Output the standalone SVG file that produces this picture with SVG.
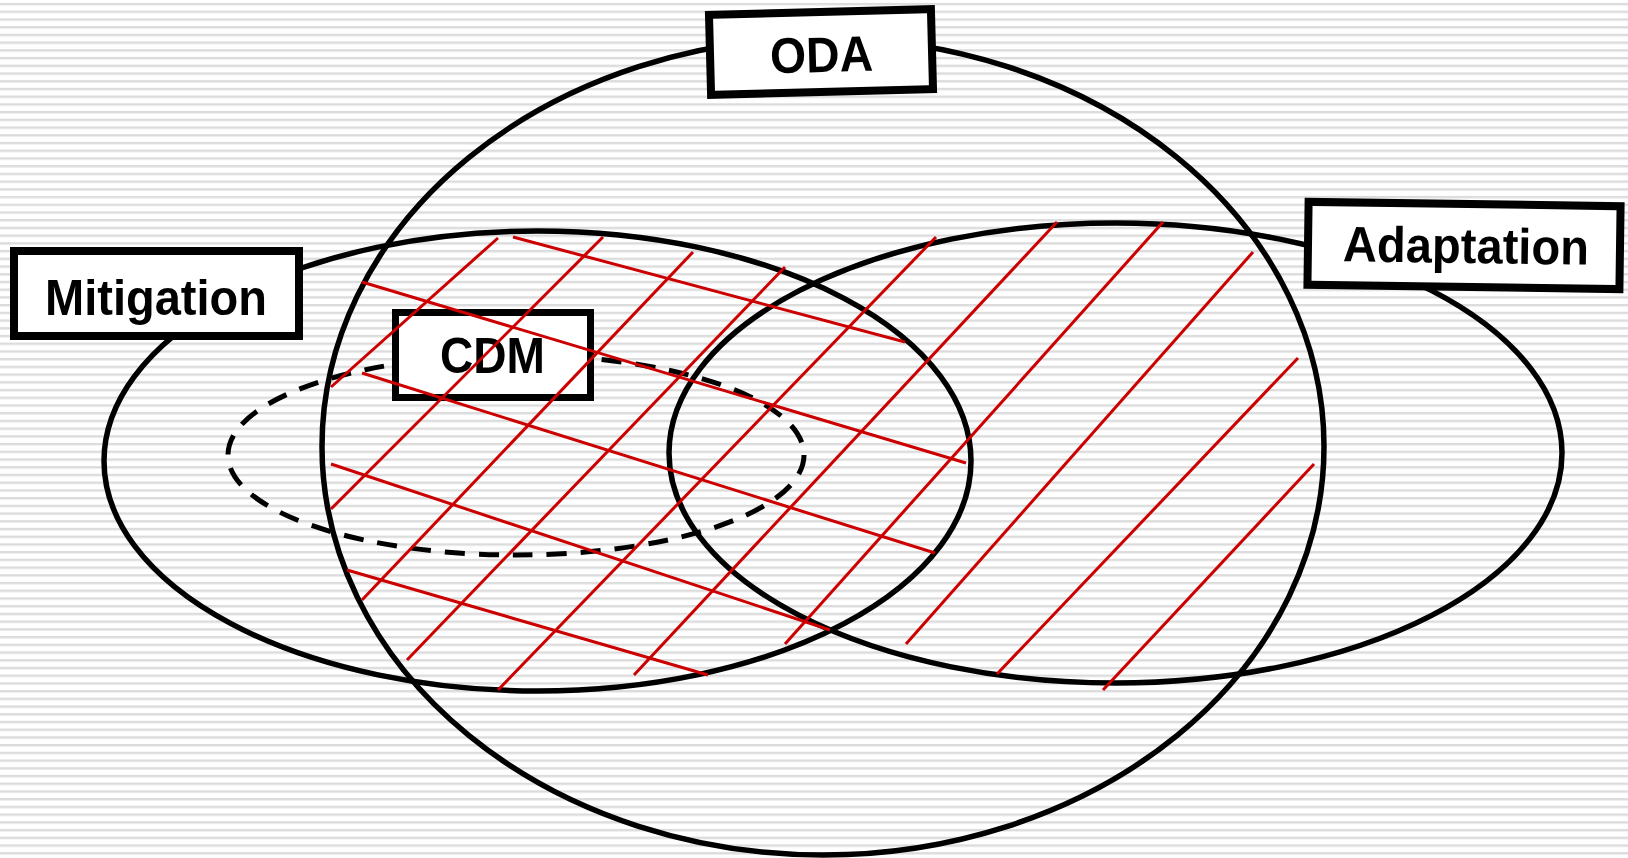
<svg xmlns="http://www.w3.org/2000/svg" width="1628" height="858" viewBox="0 0 1628 858">
  <defs>
    <pattern id="stripes" width="16" height="7.72" patternUnits="userSpaceOnUse">
      <rect width="16" height="7.72" fill="#ffffff"/>
      <rect y="2.9" width="16" height="2.4" fill="#dcdcdc"/>
    </pattern>
  </defs>
  <style>
    .set { fill: none; stroke: #000; stroke-width: 5.5; }
    .dash { fill: none; stroke: #000; stroke-width: 5; stroke-dasharray: 20 14; }
    .box { fill: #fff; stroke: #000; stroke-width: 8; }
    .lbl { font-family: "Liberation Sans", Arial, sans-serif; font-weight: bold; font-size: 50px; fill: #000; text-anchor: middle; }
    .hatch line { stroke: #cc0000; stroke-width: 3; stroke-linecap: butt; }
  </style>
  <rect width="1628" height="858" fill="url(#stripes)"/>

  <g id="mitigation">
    <ellipse class="set" cx="537.5" cy="461" rx="433.5" ry="230"/>
    <rect class="box" x="14" y="251" width="285" height="85"/>
    <text class="lbl" x="156" y="315" textLength="222" lengthAdjust="spacingAndGlyphs">Mitigation</text>
  </g>

  <g id="adaptation">
    <ellipse class="set" cx="1115.5" cy="453" rx="446.5" ry="230"/>
    <g transform="rotate(0.8 1464 246)">
      <rect class="box" x="1308" y="204" width="312" height="83"/>
      <text class="lbl" x="1466" y="263" textLength="246" lengthAdjust="spacingAndGlyphs">Adaptation</text>
    </g>
  </g>

  <g id="oda">
    <ellipse class="set" cx="823" cy="446.5" rx="501" ry="408.5"/>
    <g transform="rotate(-1.5 821 52)">
      <rect class="box" x="710" y="12" width="222" height="80"/>
      <text class="lbl" x="821.5" y="72" textLength="103" lengthAdjust="spacingAndGlyphs">ODA</text>
    </g>
  </g>

  <g id="cdm">
    <ellipse class="dash" cx="516" cy="455" rx="288" ry="100"/>
    <rect x="395.5" y="312.5" width="195" height="85" fill="#fff" stroke="#000" stroke-width="7"/>
    <text class="lbl" x="492.5" y="373" textLength="105" lengthAdjust="spacingAndGlyphs">CDM</text>
  </g>

  <g id="hatching" class="hatch">
    <line x1="498" y1="238" x2="331" y2="387"/>
    <line x1="603" y1="237" x2="331" y2="509"/>
    <line x1="693" y1="252" x2="362" y2="600"/>
    <line x1="785" y1="267" x2="407" y2="660"/>
    <line x1="936" y1="237" x2="498" y2="690"/>
    <line x1="1057" y1="222" x2="634" y2="675"/>
    <line x1="1163" y1="222" x2="785" y2="644"/>
    <line x1="1253" y1="252" x2="906" y2="644"/>
    <line x1="1298" y1="358" x2="997" y2="674"/>
    <line x1="1314" y1="464" x2="1103" y2="690"/>
    <line x1="513" y1="237" x2="905" y2="342"/>
    <line x1="362" y1="282" x2="966" y2="463"/>
    <line x1="362" y1="373" x2="935" y2="553"/>
    <line x1="331" y1="464" x2="830" y2="630"/>
    <line x1="347" y1="570" x2="708" y2="675"/>
  </g>
</svg>
